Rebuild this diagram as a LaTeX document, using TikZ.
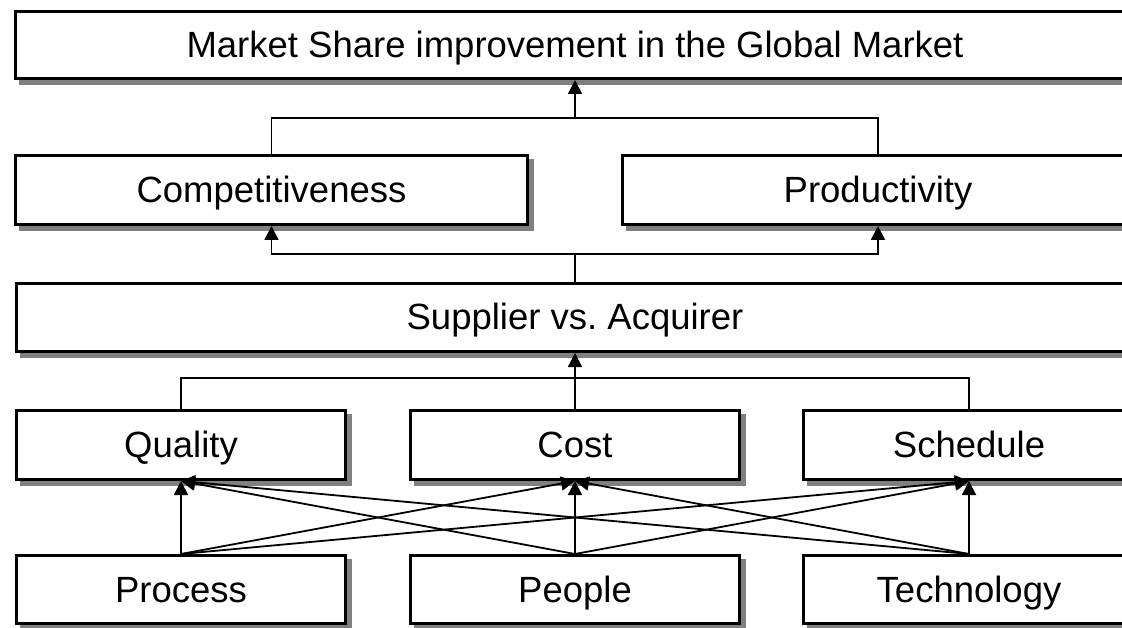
\documentclass[tikz,border=0pt]{standalone}
\usepackage{fontspec}
\setmainfont{Liberation Sans}
\usetikzlibrary{shadows,arrows.meta}
\begin{document}
\frenchspacing
\begin{tikzpicture}[x=1pt,y=-1pt,
  box/.style={draw,line width=3pt,fill=white,rectangle,inner sep=0pt,
    font=\fontsize{36.5}{40}\selectfont,text height=25pt,text depth=0pt,
    drop shadow={shadow xshift=5pt,shadow yshift=-5pt,fill=gray,draw=gray,line width=3pt,opacity=1}},
  conn/.style={line width=1.8pt},
  arr/.style={conn,-{Triangle[length=14pt,width=14pt]}}]
\useasboundingbox (0,0) rectangle (1122,628);
\node[box,minimum width=1119pt,minimum height=67pt] (top) at (575,45) {Market Share improvement in the Global Market};
\node[box,minimum width=512pt,minimum height=69pt] (comp) at (271.5,190) {Competitiveness};
\node[box,minimum width=511pt,minimum height=69pt] (prod) at (878,190) {Productivity};
\node[box,minimum width=1118pt,minimum height=68pt] (sup) at (575,317.5) {Supplier vs. Acquirer};
\node[box,minimum width=329pt,minimum height=69pt] (qual) at (181,445) {Quality};
\node[box,minimum width=329pt,minimum height=69pt] (cost) at (575,445) {Cost};
\node[box,minimum width=331pt,minimum height=69pt] (sched) at (969,445) {Schedule};
\node[box,minimum width=329pt,minimum height=68pt] (proc) at (181,589.5) {Process};
\node[box,minimum width=329pt,minimum height=68pt] (peop) at (575,589.5) {People};
\node[box,minimum width=331pt,minimum height=68pt] (tech) at (969,589.5) {Technology};
\coordinate (j1) at (575,118);
\coordinate (j2) at (575,254);
\coordinate (j3) at (575,378);
\draw[conn] (comp.north) -- (comp.north |- j1) -- (prod.north |- j1) -- (prod.north);
\draw[arr] (j1) -- (top.south);
\draw[conn] (sup.north) -- (j2);
\draw[arr] (j2) -| (comp.south);
\draw[arr] (j2) -| (prod.south);
\draw[conn] (qual.north) |- (j3);
\draw[conn] (sched.north) |- (j3);
\draw[conn] (cost.north) -- (j3);
\draw[arr] (j3) -- (sup.south);
\foreach \a in {proc,peop,tech}{
  \foreach \b in {qual,cost,sched}{
    \draw[arr] (\a.north) -- (\b.south);
  }
}
\end{tikzpicture}
\end{document}
